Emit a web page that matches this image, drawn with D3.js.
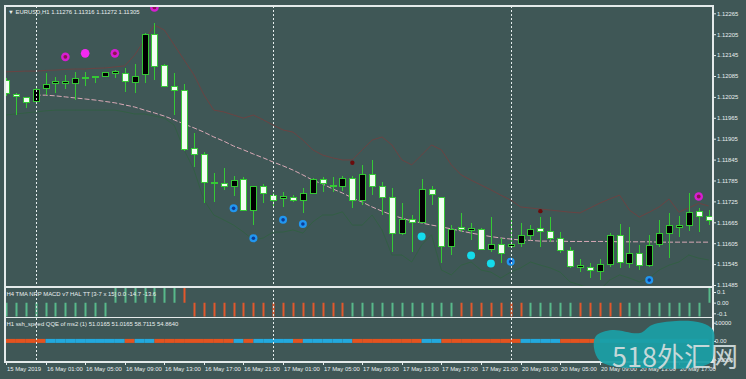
<!DOCTYPE html>
<html><head><meta charset="utf-8">
<script src="https://cdn.jsdelivr.net/npm/d3@7/dist/d3.min.js"></script>
<style>html,body{margin:0;padding:0;background:#3f5756;overflow:hidden}svg{display:block}</style>
</head><body>
<svg id="chart" width="746" height="379"></svg>
<script>
// ---------------- DATA ----------------
const titleText = "\u25BC EURUSD,H1  1.11276 1.11316 1.11272 1.11305";
const macdTitle = "H4 TMA NRP MACD v7 HAL TT [3-7 x 15] 0.0 -14.7 -13.6";
const qqeTitle = "H1 ssh_speed QQE of ms2 (1) 51.0165 51.0165 58.7115 54.8640";

const timeLabels = ["15 May 2019","16 May 01:00","16 May 05:00","16 May 09:00","16 May 13:00","16 May 17:00",
  "16 May 21:00","17 May 01:00","17 May 05:00","17 May 09:00","17 May 13:00","17 May 17:00","17 May 21:00",
  "20 May 01:00","20 May 05:00","20 May 09:00","20 May 13:00","20 May 17:00"];
const timeLabelStep = 4;          // one label every 4 H1 bars
const daySeparatorBars = [3, 27, 51];

const priceTicks = [1.12265,1.12205,1.12145,1.12085,1.12025,1.11965,1.11905,1.11845,1.11785,1.11725,1.11665,1.11605,1.11545,1.11485];
const macdTicks = [0.1, 0.0, -0.1];
const macdTickLabels = ["0.1","0.00","-0.1"];
const qqeTicks = [10000, 0, -10000];
const qqeTickLabels = ["10000","0.00","-10000"];

const opens = [1.12071,1.12032,1.12024,1.12011,1.12048,1.12063,1.12064,1.12064,1.12077,1.12080,1.12085,1.12093,
 1.12093,1.12066,1.12088,1.12203,1.12114,1.12056,1.12043,1.11876,1.11861,1.11778,1.11777,1.11769,
 1.11788,1.11700,1.11767,1.11741,1.11733,1.11735,1.11729,1.11748,1.11788,1.11769,1.11767,1.11791,
 1.11729,1.11803,1.11767,1.11736,1.11632,1.11672,1.11665,1.11758,1.11736,1.11595,1.11650,1.11641,
 1.11645,1.11588,1.11602,1.11595,1.11605,1.11626,1.11646,1.11638,1.11619,1.11585,1.11536,1.11534,
 1.11523,1.11544,1.11626,1.11547,1.11574,1.11542,1.11600,1.11634,1.11651,1.11657,1.11696,1.11683];
const highs = [1.12080,1.12036,1.12026,1.12053,1.12094,1.12083,1.12088,1.12096,1.12096,1.12085,1.12097,1.12102,
 1.12107,1.12119,1.12208,1.12238,1.12119,1.12094,1.12062,1.11922,1.11868,1.11806,1.11820,1.11798,
 1.11796,1.11769,1.11775,1.11748,1.11753,1.11743,1.11763,1.11791,1.11794,1.11796,1.11798,1.11798,
 1.11829,1.11844,1.11781,1.11763,1.11719,1.11686,1.11788,1.11769,1.11738,1.11658,1.11691,1.11662,
 1.11648,1.11681,1.11619,1.11672,1.11662,1.11658,1.11681,1.11681,1.11638,1.11595,1.11559,1.11547,
 1.11561,1.11634,1.11660,1.11652,1.11600,1.11629,1.11672,1.11691,1.11683,1.11748,1.11705,1.11700];
const lows = [1.12028,1.11973,1.11993,1.12007,1.12031,1.12036,1.12047,1.12016,1.12056,1.12064,1.12082,1.12078,
 1.12040,1.12037,1.12064,1.12074,1.12053,1.11973,1.11871,1.11825,1.11720,1.11724,1.11758,1.11741,
 1.11698,1.11658,1.11720,1.11710,1.11710,1.11724,1.11691,1.11746,1.11753,1.11753,1.11756,1.11705,
 1.11715,1.11743,1.11686,1.11580,1.11629,1.11580,1.11662,1.11715,1.11548,1.11571,1.11638,1.11614,
 1.11585,1.11580,1.11548,1.11590,1.11595,1.11614,1.11595,1.11609,1.11576,1.11533,1.11523,1.11504,
 1.11499,1.11537,1.11533,1.11533,1.11528,1.11537,1.11595,1.11562,1.11624,1.11641,1.11638,1.11658];
const closes = [1.12034,1.12026,1.12008,1.12045,1.12062,1.12068,1.12068,1.12079,1.12082,1.12083,1.12096,1.12097,
 1.12069,1.12083,1.12205,1.12112,1.12055,1.12043,1.11873,1.11861,1.11778,1.11775,1.11769,1.11786,
 1.11700,1.11767,1.11748,1.11727,1.11738,1.11729,1.11748,1.11788,1.11775,1.11772,1.11791,1.11729,
 1.11801,1.11767,1.11736,1.11632,1.11673,1.11665,1.11760,1.11745,1.11595,1.11643,1.11643,1.11647,
 1.11588,1.11602,1.11576,1.11602,1.11628,1.11645,1.11638,1.11619,1.11585,1.11538,1.11540,1.11528,
 1.11544,1.11626,1.11549,1.11576,1.11542,1.11597,1.11634,1.11655,1.11657,1.11693,1.11681,1.11670];

// slow moving average (pink dashed)
const maValues = [null,null,null,1.12030,1.12030,1.12028,1.12025,1.12022,1.12019,1.12016,1.12012,1.12008,
 1.12002,1.11996,1.11987,1.11979,1.11970,1.11959,1.11947,1.11936,1.11924,1.11910,1.11898,1.11884,
 1.11873,1.11861,1.11850,1.11838,1.11827,1.11815,1.11801,1.11786,1.11775,1.11761,1.11749,1.11735,
 1.11723,1.11709,1.11697,1.11686,1.11677,1.11669,1.11663,1.11657,1.11652,1.11646,1.11640,1.11634,
 1.11629,1.11624,1.11620,1.11617,1.11614,1.11613,1.11611,1.11611,1.11611,1.11610,1.11610,1.11610,
 1.11610,1.11610,1.11609,1.11609,1.11609,1.11609,1.11608,1.11608,1.11608,1.11608,1.11608,1.11608];
// upper band (dark red) and lower band (dark green)
const upperBand = [1.12097,1.12098,1.12099,1.12099,1.12101,1.12102,1.12104,1.12105,1.12105,1.12107,1.12108,1.12111,
 1.12114,1.12145,1.12188,1.12231,1.12217,1.12174,1.12131,1.12088,1.12031,1.11987,1.11982,1.11973,
 1.11964,1.11973,1.11959,1.11944,1.11930,1.11924,1.11901,1.11873,1.11858,1.11850,1.11844,1.11844,
 1.11873,1.11901,1.11910,1.11887,1.11844,1.11830,1.11858,1.11887,1.11873,1.11830,1.11801,1.11786,
 1.11772,1.11758,1.11743,1.11729,1.11709,1.11706,1.11703,1.11700,1.11697,1.11694,1.11692,1.11706,
 1.11720,1.11732,1.11743,1.11700,1.11680,1.11694,1.11709,1.11732,1.11694,1.11706,1.11720,1.11712];
const lowerBand = [1.11973,1.11976,1.11979,1.11982,1.11985,1.11987,1.11987,1.11987,1.11987,1.11987,1.11987,1.11987,
 1.11982,1.11976,1.11976,1.11970,1.11964,1.11944,1.11873,1.11815,1.11729,1.11686,1.11672,1.11657,
 1.11637,1.11614,1.11620,1.11637,1.11637,1.11643,1.11634,1.11666,1.11686,1.11686,1.11695,1.11657,
 1.11657,1.11686,1.11643,1.11571,1.11571,1.11551,1.11600,1.11629,1.11528,1.11514,1.11542,1.11551,
 1.11528,1.11522,1.11505,1.11522,1.11534,1.11551,1.11542,1.11534,1.11522,1.11494,1.11485,1.11476,
 1.11471,1.11499,1.11514,1.11505,1.11494,1.11505,1.11528,1.11542,1.11551,1.11571,1.11562,1.11557];

// signal dots
const magentaRingBars = [6, 11, 15, 70];
const magentaRingPrices = [1.12140, 1.12150, 1.12282, 1.11739];
const magentaSolidBars = [8];
const magentaSolidPrices = [1.12150];
const blueRingBars = [23, 25, 28, 30, 51, 65];
const blueRingPrices = [1.11705, 1.11619, 1.11672, 1.11660, 1.11552, 1.11499];
const cyanBars = [42, 47, 49];
const cyanPrices = [1.11624, 1.11570, 1.11547];
const darkRedBars = [35, 54];
const darkRedPrices = [1.11836, 1.11697];

// MACD histogram (values run off the pane scale) and its colour state
const macdValues = [-0.15,-0.15,-0.15,-0.15,-0.15,-0.15,-0.15,-0.15,-0.15,-0.15,-0.15,0.15,
 0.15,0.15,0.15,0.15,0.15,0.15,0.15,-0.15,-0.15,-0.15,-0.15,-0.15,
 -0.15,-0.15,-0.15,-0.15,-0.15,-0.15,-0.15,-0.15,-0.15,-0.15,-0.15,-0.15,
 -0.15,-0.15,-0.15,-0.15,-0.15,-0.15,-0.15,-0.15,-0.15,-0.15,-0.15,-0.15,
 -0.15,-0.15,-0.15,-0.15,-0.15,-0.15,-0.15,-0.15,-0.15,-0.15,-0.15,-0.15,
 -0.15,-0.15,-0.15,-0.15,-0.15,-0.15,-0.15,-0.15,-0.15,-0.15,-0.15,0.15];
const macdState = ["up","up","up","up","up","up","up","up","up","up","up","up",
 "up","up","up","up","up","up","dn","dn","dn","dn","dn","dn",
 "dn","dn","dn","dn","dn","dn","dn","dn","dn","dn","dn","up",
 "up","up","up","up","up","up","up","up","up","up","dn","dn",
 "dn","dn","dn","dn","dn","up","up","up","up","up","dn","dn",
 "dn","dn","dn","up","up","up","up","up","up","up","up","up"];

// QQE line values and colour state
const qqeValues = [51,51,51,51,51,51,51,51,51,51,51,51,51,51,51,51,51,51,51,51,51,51,51,51,
 51,51,51,51,51,51,51,51,51,51,51,51,51,51,51,51,51,51,51,51,51,51,51,51,
 51,51,51,51,51,51,51,51,51,51,51,51,51,51,51,51,51,51,51,51,51,51,51,51];
const qqeState = ["dn","dn","dn","dn","dn","up","up","up","up","up","up","up",
 "up","dn","up","up","dn","dn","dn","dn","dn","dn","dn","dn",
 "up","dn","up","up","up","up","dn","up","up","up","up","up",
 "dn","dn","dn","dn","dn","dn","dn","up","up","dn","dn","dn",
 "dn","dn","dn","dn","dn","up","up","up","up","dn","dn","dn",
 "dn","up","up","up","up","up","up","up","up","up","up","up"];

const watermark = "518\u5916\u6C47\u7F51";

// ---------------- LAYOUT / STYLE ----------------
const C = {
  bg: "#3f5756", frame: "#e4eaea", text: "#e8eeee", wick: "#35c935",
  bull: "#000000", bear: "#f2fff2", ma: "#d9a9b6", upper: "#7a3c3c", lower: "#2f6040",
  macdUp: "#58b98a", macdDn: "#e2582c", qqeUp: "#22a9de", qqeDn: "#e4531f"
};
const L = { left: 5, right: 713, mainTop: 6, mainBot: 287, p1Bot: 317.5, p2Bot: 362 };
const FONT = "'Liberation Sans', Arial, sans-serif";
const FS = 5.9;

const svg = d3.select("#chart");
svg.append("rect").attr("width", 746).attr("height", 379).attr("fill", C.bg);

const n = opens.length;
const x = d3.scaleLinear().domain([0, 71]).range([6.0, 708.6]);
const y = d3.scaleLinear().domain([1.11485, 1.12265]).range([285, 13.3]);
const y1 = d3.scaleLinear().domain([-0.1, 0.1]).range([313.3, 292]);
const y2 = d3.scaleLinear().domain([-10000, 10000]).range([359.3, 322.7]);

const defs = svg.append("defs");
defs.append("clipPath").attr("id", "clipMain").append("rect")
  .attr("x", L.left).attr("y", L.mainTop).attr("width", L.right - L.left).attr("height", L.mainBot - L.mainTop);
defs.append("clipPath").attr("id", "clipP1").append("rect")
  .attr("x", L.left).attr("y", L.mainBot + 0.5).attr("width", L.right - L.left).attr("height", L.p1Bot - L.mainBot - 1.5);

const idx = d3.range(n);

// ---- main pane ----
const main = svg.append("g").attr("clip-path", "url(#clipMain)");

const line = arr => d3.line().defined(i => arr[i] != null).x(i => x(i)).y(i => y(arr[i]));
main.append("path").attr("d", line(lowerBand)(idx)).attr("fill", "none")
  .attr("stroke", C.lower).attr("stroke-width", 1).attr("opacity", 0.8);
main.append("path").attr("d", line(upperBand)(idx)).attr("fill", "none")
  .attr("stroke", C.upper).attr("stroke-width", 1).attr("opacity", 0.75);
main.append("path").attr("d", line(maValues)(idx)).attr("fill", "none")
  .attr("stroke", C.ma).attr("stroke-width", 1).attr("stroke-dasharray", "5,2");

// candles
const cg = main.append("g").attr("shape-rendering", "crispEdges");
cg.selectAll("line.wick").data(idx).join("line").attr("class", "wick")
  .attr("x1", i => Math.round(x(i)) + 0.5).attr("x2", i => Math.round(x(i)) + 0.5)
  .attr("y1", i => y(highs[i])).attr("y2", i => y(lows[i]))
  .attr("stroke", C.wick).attr("stroke-width", 1);
cg.selectAll("rect.body").data(idx).join("rect").attr("class", "body")
  .attr("x", i => Math.round(x(i)) - 2.5)
  .attr("width", 6)
  .attr("y", i => y(Math.max(opens[i], closes[i])))
  .attr("height", i => Math.max(0.01, Math.abs(y(opens[i]) - y(closes[i]))))
  .attr("fill", i => closes[i] > opens[i] ? C.bull : C.bear)
  .attr("stroke", C.wick).attr("stroke-width", 1);

// dots
function dots(bars, prices, r, fill, innerR, innerFill) {
  const g = main.append("g");
  g.selectAll("circle.o").data(bars).join("circle")
    .attr("cx", (b) => x(b)).attr("cy", (b, k) => y(prices[k])).attr("r", r).attr("fill", fill);
  if (innerR) g.selectAll("circle.i").data(bars).join("circle")
    .attr("cx", (b) => x(b)).attr("cy", (b, k) => y(prices[k])).attr("r", innerR).attr("fill", innerFill);
}
dots(magentaRingBars, magentaRingPrices, 4.3, "#d61ed2", 1.9, "#8a1450");
dots(magentaSolidBars, magentaSolidPrices, 4.3, "#f52af2");
dots(blueRingBars, blueRingPrices, 4, "#2196f0", 1.8, "#0c3c96");
dots(cyanBars, cyanPrices, 4, "#14dcec");
dots(darkRedBars, darkRedPrices, 2.2, "#6a0c0c");

// ---- MACD pane ----
const p1 = svg.append("g").attr("clip-path", "url(#clipP1)");
p1.selectAll("line").data(idx).join("line")
  .attr("x1", i => Math.round(x(i)) + 0.5).attr("x2", i => Math.round(x(i)) + 0.5)
  .attr("y1", y1(0)).attr("y2", i => y1(macdValues[i]))
  .attr("stroke", i => macdState[i] === "up" ? C.macdUp : C.macdDn).attr("stroke-width", 2);

// ---- QQE pane ----
const p2 = svg.append("g");
p2.selectAll("line").data(d3.range(1, n)).join("line")
  .attr("x1", i => x(i - 1)).attr("x2", i => x(i))
  .attr("y1", i => y2(qqeValues[i - 1])).attr("y2", i => y2(qqeValues[i]))
  .attr("stroke", i => qqeState[i] === "up" ? C.qqeUp : C.qqeDn).attr("stroke-width", 4);

// ---- day separators ----
svg.append("g").selectAll("line").data(daySeparatorBars).join("line")
  .attr("x1", b => Math.round(x(b)) + 0.5).attr("x2", b => Math.round(x(b)) + 0.5)
  .attr("y1", L.mainTop).attr("y2", L.p2Bot)
  .attr("stroke", "#e6eeee").attr("stroke-width", 1).attr("stroke-dasharray", "2,2");

// ---- frames ----
const fr = svg.append("g").attr("fill", "none").attr("stroke", C.frame).attr("shape-rendering", "crispEdges");
fr.append("rect").attr("x", L.left).attr("y", L.mainTop).attr("width", L.right - L.left).attr("height", L.p2Bot - L.mainTop).attr("stroke-width", 1.3);
fr.append("line").attr("x1", L.left).attr("x2", L.right).attr("y1", L.mainBot).attr("y2", L.mainBot).attr("stroke-width", 1.6);
fr.append("line").attr("x1", L.left).attr("x2", L.right).attr("y1", L.p1Bot).attr("y2", L.p1Bot).attr("stroke-width", 1.6);

// ---- axes ----
function styleAxis(g, dx) {
  g.select(".domain").remove();
  g.selectAll("line").attr("stroke", C.frame);
  g.selectAll("text").attr("fill", C.text).attr("font-family", FONT).attr("font-size", FS).attr("x", dx);
}
styleAxis(svg.append("g").attr("transform", `translate(${L.right},0)`)
  .call(d3.axisRight(y).tickValues(priceTicks).tickSize(3).tickFormat(d3.format(".5f"))), 4);
styleAxis(svg.append("g").attr("transform", `translate(${L.right},0)`)
  .call(d3.axisRight(y1).tickValues(macdTicks).tickSize(3).tickFormat((d, k) => macdTickLabels[k])), 4);
styleAxis(svg.append("g").attr("transform", `translate(${L.right},0)`)
  .call(d3.axisRight(y2).tickValues(qqeTicks).tickSize(3).tickFormat((d, k) => qqeTickLabels[k])), 2);

// time axis
const tg = svg.append("g");
timeLabels.forEach((t, k) => {
  const xx = Math.round(x(k * timeLabelStep)) + 0.5;
  tg.append("line").attr("x1", xx).attr("x2", xx).attr("y1", L.p2Bot).attr("y2", L.p2Bot + 3).attr("stroke", C.frame);
  tg.append("text").attr("x", xx + 0.5).attr("y", 370.8).attr("font-family", FONT).attr("font-size", FS)
    .attr("fill", C.text).text(t);
});

// titles
const txt = svg.append("g").attr("font-family", FONT).attr("font-size", FS).attr("fill", C.text);
txt.append("text").attr("x", 8).attr("y", 13.5).text(titleText);
txt.append("text").attr("x", 6.5).attr("y", 296).text(macdTitle);
txt.append("text").attr("x", 6.5).attr("y", 325.5).text(qqeTitle);

// watermark
const wm = svg.append("g");
const blob = [[596,336],[612,330],[640,333],[652,325],[676,321],[702,323],[713,330],[714,346],[711,362],[690,368],[650,368],[617,367],[600,361],[594,348]];
wm.append("path").attr("d", d3.line().curve(d3.curveCatmullRomClosed)(blob)).attr("fill", "#1b9ea4").attr("opacity", 0.95);
wm.append("text").attr("x", 612).attr("y", 367).attr("font-family", "'Noto Sans CJK SC', sans-serif")
  .attr("font-size", 27).attr("fill", "#d3dede").attr("opacity", 0.92).text(watermark);
</script>
</body></html>
